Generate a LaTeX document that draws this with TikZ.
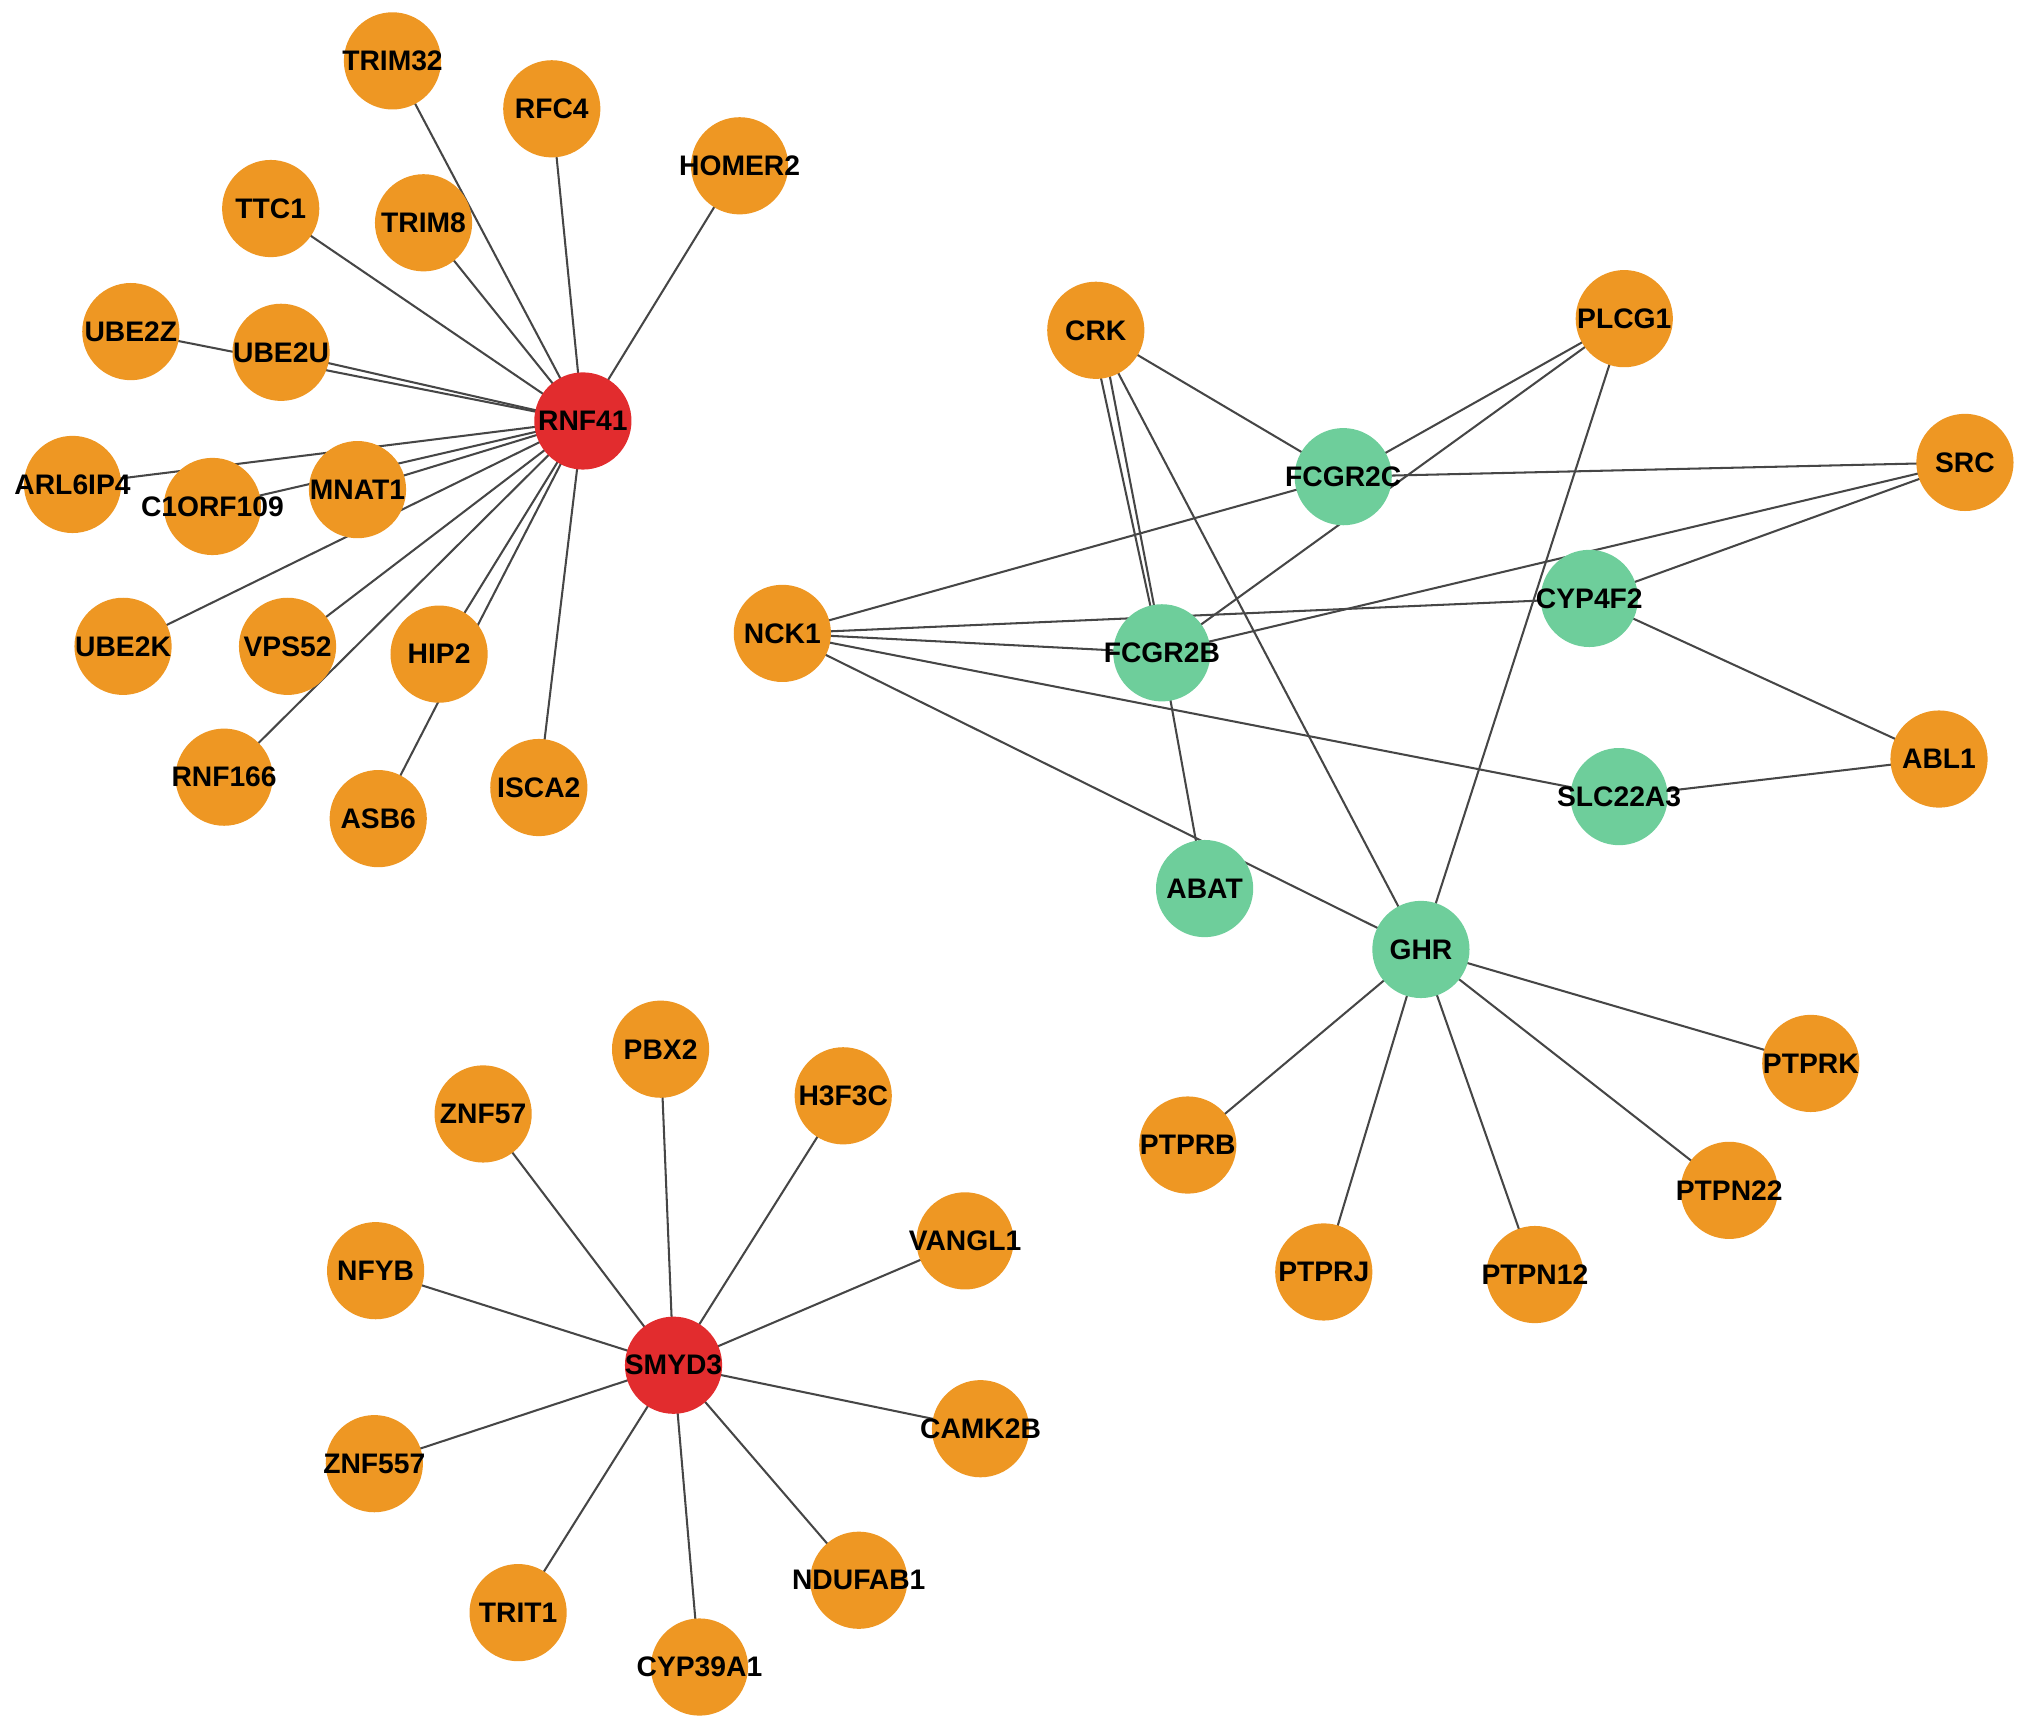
\documentclass[tikz,border=0pt]{standalone}
\usepackage{fontspec}
\setmainfont{Liberation Sans}
\usetikzlibrary{backgrounds}
\definecolor{geneorange}{RGB}{238,151,35}
\definecolor{hubred}{RGB}{226,44,46}
\definecolor{coregreen}{RGB}{110,206,155}
\definecolor{edgegray}{RGB}{70,70,70}

\begin{document}
\begin{tikzpicture}[
  x=0.01cm, y=-0.01cm,
  gene/.style={circle, fill=geneorange, minimum size=0.75cm, inner sep=0pt},
  hub/.style={gene, fill=hubred},
  core/.style={gene, fill=coregreen},
  lab/.style={font=\fontsize{6.2}{7}\selectfont\bfseries, inner sep=0pt},
  link/.style={draw=edgegray, line width=0.45pt}
]
\useasboundingbox (0,0) rectangle (1568,1336);
% hub genes
\foreach \n/\x/\y in {RNF41/450/325,SMYD3/520/1054}
  \node[hub, label={[lab]center:\n}] (\n) at (\x,\y) {};
% green genes
\foreach \n/\x/\y in {FCGR2C/1037/368,FCGR2B/897/504,CYP4F2/1227/462,SLC22A3/1250/615,ABAT/930/686,GHR/1097/733}
  \node[core, label={[lab]center:\n}] (\n) at (\x,\y) {};
% orange genes
\foreach \n/\x/\y in {TRIM32/303/47,RFC4/426/84,HOMER2/571/128,TTC1/209/161,TRIM8/327/172,
    UBE2Z/101/256,UBE2U/217/272,ARL6IP4/56/374,C1ORF109/164/391,MNAT1/276/378,
    UBE2K/95/499,VPS52/222/499,HIP2/339/505,RNF166/173/600,ASB6/292/632,ISCA2/416/608,
    CRK/846/255,PLCG1/1254/246,SRC/1517/357,NCK1/604/489,ABL1/1497/586,
    PTPRK/1398/821,PTPRB/917/884,PTPN22/1335/919,PTPRJ/1022/982,PTPN12/1185/984,
    PBX2/510/810,ZNF57/373/860,H3F3C/651/846,VANGL1/745/958,NFYB/290/981,
    CAMK2B/757/1103,ZNF557/289/1130,NDUFAB1/663/1220,TRIT1/400/1245,CYP39A1/540/1287}
  \node[gene, label={[lab]center:\n}] (\n) at (\x,\y) {};

\begin{scope}[on background layer]
  \foreach \a in {TRIM32,RFC4,HOMER2,TTC1,TRIM8,UBE2Z,UBE2U,ARL6IP4,C1ORF109,MNAT1,
      UBE2K,VPS52,HIP2,RNF166,ASB6,ISCA2}
    \draw[link] (RNF41.center) -- (\a.center);
  \foreach \a in {PBX2,ZNF57,H3F3C,VANGL1,NFYB,CAMK2B,ZNF557,NDUFAB1,TRIT1,CYP39A1}
    \draw[link] (SMYD3.center) -- (\a.center);
  \foreach \a/\b in {CRK/FCGR2C,CRK/GHR,PLCG1/FCGR2C,PLCG1/FCGR2B,PLCG1/GHR,
      SRC/FCGR2C,SRC/FCGR2B,SRC/CYP4F2,NCK1/FCGR2C,NCK1/CYP4F2,NCK1/FCGR2B,
      NCK1/SLC22A3,NCK1/GHR,FCGR2B/ABAT,CYP4F2/ABL1,SLC22A3/ABL1,
      GHR/PTPRK,GHR/PTPRB,GHR/PTPN22,GHR/PTPRJ,GHR/PTPN12}
    \draw[link] (\a.center) -- (\b.center);
  % CRK -- FCGR2B is drawn twice
  \draw[link] ([xshift=-0.04cm]CRK.center) -- ([xshift=-0.01cm]FCGR2B.center);
  \draw[link] ([xshift=0.04cm]CRK.center) -- ([xshift=0.01cm]FCGR2B.center);
\end{scope}
\end{tikzpicture}
\end{document}
